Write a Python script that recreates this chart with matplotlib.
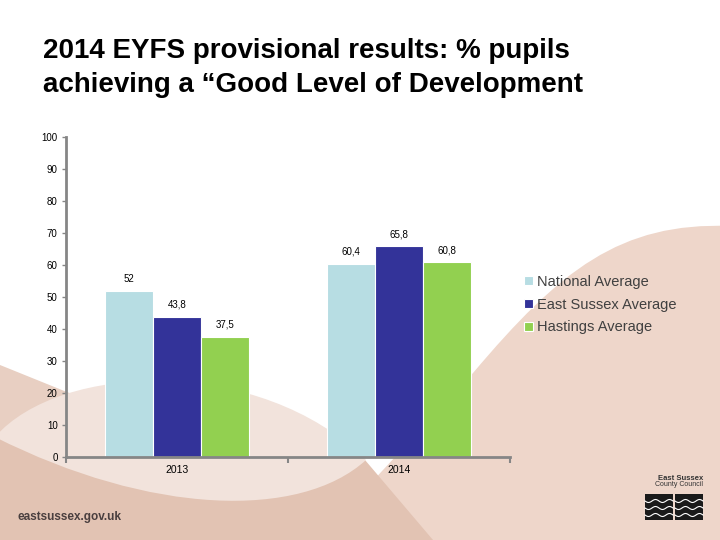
import numpy as np
import matplotlib
matplotlib.use('Agg')
import matplotlib.pyplot as plt
from matplotlib.patches import Polygon, Rectangle, PathPatch
from matplotlib.path import Path

#%% 데이터
years = ['2013', '2014']
series_names = ['National Average', 'East Sussex Average', 'Hastings Average']
national = [52, 60.4]
east_sussex = [43.8, 65.8]
hastings = [37.5, 60.8]
series_values = [national, east_sussex, hastings]
bar_colors = ['#b7dde3', '#333399', '#92d050']
y_ticks = list(range(0, 101, 10))

title_text = '2014 EYFS provisional results: % pupils\nachieving a \u201cGood Level of Development'

plt.rcParams['font.family'] = ['Liberation Sans', 'DejaVu Sans']

fig = plt.figure(figsize=(7.2, 5.4), dpi=100)

#%% 배경 (슬라이드 장식)
bg = fig.add_axes([0, 0, 1, 1], zorder=0)
bg.set_xlim(0, 720)
bg.set_ylim(540, 0)
bg.axis('off')

C4 = Path.CURVE4
# 오른쪽 큰 곡선 영역
right_verts = [(730, 226), (620, 222), (560, 270), (473, 373),
               (383, 470), (300, 560), (730, 560), (730, 226)]
right_codes = [Path.MOVETO, C4, C4, C4, Path.LINETO, Path.LINETO, Path.LINETO, Path.CLOSEPOLY]
bg.add_patch(PathPatch(Path(right_verts, right_codes), color='#eed6ca', lw=0))

# 왼쪽 아래 사선 영역
bg.add_patch(Polygon([(0, 365), (433, 540), (0, 540)], closed=True, color='#e8cfc2', lw=0))
bg.add_patch(Polygon([(0, 437), (365, 460), (433, 540), (0, 540)], closed=True,
                     color='#e2c3b3', lw=0))

# 옅은 렌즈 모양
lens_verts = [(-5, 437), (60, 362), (260, 355), (366, 460),
              (300, 520), (150, 515), (-5, 437), (-5, 437)]
lens_codes = [Path.MOVETO, C4, C4, C4, C4, C4, C4, Path.CLOSEPOLY]
bg.add_patch(PathPatch(Path(lens_verts, lens_codes), color='#f2e3dc', lw=0))

# 로고
bg.text(18, 517, 'eastsussex.gov.uk', fontsize=8.5, fontweight='bold', color='#4a3f3f',
        va='center', ha='left')
bg.text(703, 478, 'East Sussex', fontsize=5.5, fontweight='bold', color='#333333',
        ha='right', va='center')
bg.text(703, 485, 'County Council', fontsize=5, color='#333333', ha='right', va='center')
for x0 in [645, 675]:
    bg.add_patch(Rectangle((x0, 494), 28, 26, color='#1a1a1a', lw=0))
    xs = np.linspace(x0, x0 + 28, 40)
    for yy in [501, 508, 515]:
        bg.plot(xs, yy + 1.5 * np.sin((xs - x0) / 28 * 4 * np.pi), color='white', lw=0.8)

#%% 제목
fig.text(43 / 720, 1 - 68 / 540, title_text, fontsize=20, fontweight='bold',
         color='black', ha='left', va='center', linespacing=1.38)

#%% 막대 그래프
ax = fig.add_axes([66 / 720, 83 / 540, 444 / 720, 320 / 540], zorder=1)
ax.patch.set_alpha(0)

w = 0.216
x = np.arange(len(years))
for i, (name, vals, c) in enumerate(zip(series_names, series_values, bar_colors)):
    pos = x + (i - 1) * w
    ax.bar(pos, vals, width=w, color=c, edgecolor='white', linewidth=0.8, label=name)
    for p, v in zip(pos, vals):
        ax.text(p, v + 2.2, ('%g' % v).replace('.', ','), ha='center', va='bottom',
                fontsize=7, color='black')

ax.set_xlim(-0.5, 1.5)
ax.set_ylim(0, 100)
ax.set_yticks(y_ticks)
ax.tick_params(axis='y', labelsize=7, length=3, width=1, color='#868686', pad=3)

ax.set_xticks([-0.5, 0.5, 1.5])
ax.set_xticklabels(['', '', ''])
ax.set_xticks(x, minor=True)
ax.set_xticklabels(years, minor=True, fontsize=7.5)
ax.tick_params(axis='x', which='major', length=4, width=1.5, color='#868686')
ax.tick_params(axis='x', which='minor', length=0, pad=6)

for s in ['top', 'right']:
    ax.spines[s].set_visible(False)
for s in ['left', 'bottom']:
    ax.spines[s].set_color('#868686')
    ax.spines[s].set_linewidth(2)

fig.legend(loc='upper left', bbox_to_anchor=(524 / 720, 1 - 275 / 540), frameon=False,
           fontsize=10.5, handlelength=0.6, handleheight=0.6, handletextpad=0.3,
           labelspacing=0.6, borderpad=0, borderaxespad=0, labelcolor='#404040')

plt.savefig('out.png', dpi=100)
